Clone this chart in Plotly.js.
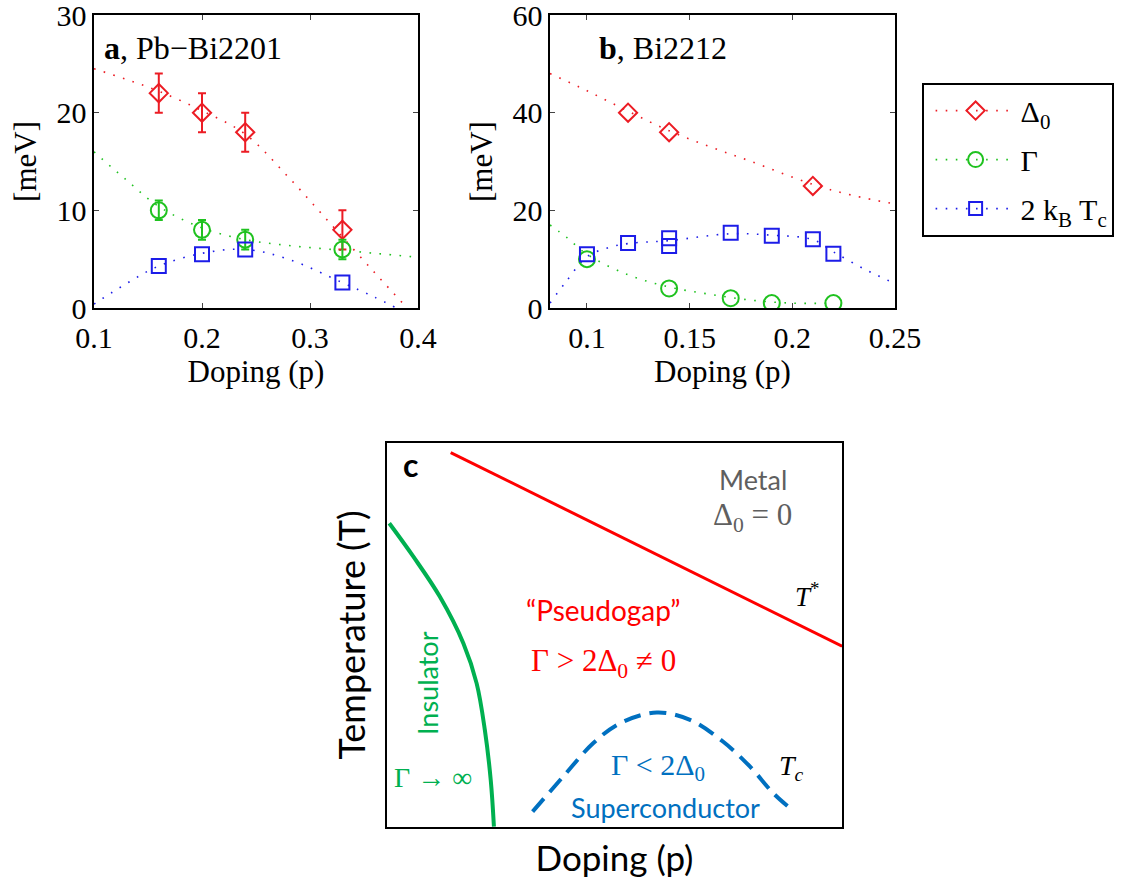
<!DOCTYPE html>
<html>
<head>
<meta charset="utf-8">
<script src="https://cdn.plot.ly/plotly-3.0.1.min.js"></script>
<style>html,body{margin:0;padding:0;background:#fff;}#chart{width:1127px;height:882px;}</style>
</head>
<body>
<div id="chart"></div>
<script>
// ---------- Panel a: Pb-Bi2201 ----------
const dopA = [0.16, 0.20, 0.24, 0.33];
const gapA = [22, 20, 18, 8];
const gapErrA = [2, 2, 2, 2];
const gammaA = [10, 8, 7, 6];
const gammaErrA = [1, 1, 1, 1];
const tcA = [4.3, 5.5, 6.0, 2.6];
// fitted guide lines
const fitGapXA = [0.10, 0.13, 0.16, 0.20, 0.24, 0.28, 0.32, 0.36, 0.39];
const fitGapYA = [24.5, 23.4, 22.2, 20.2, 17.8, 13.4, 8.5, 3.6, 0.0];
const fitGammaXA = [0.10, 0.13, 0.16, 0.20, 0.24, 0.28, 0.32, 0.36, 0.40];
const fitGammaYA = [16.0, 13.1, 10.4, 8.2, 7.0, 6.4, 6.0, 5.6, 5.2];
const fitTcXA = [0.10, 0.13, 0.16, 0.20, 0.24, 0.28, 0.33, 0.36, 0.38];
const fitTcYA = [0.4, 2.5, 4.3, 5.6, 6.0, 5.0, 2.6, 1.1, 0.0];

// ---------- Panel b: Bi2212 ----------
const dopGapB = [0.12, 0.14, 0.21];
const gapB = [40, 36, 25];
const dopGammaB = [0.10, 0.14, 0.17, 0.19, 0.22];
const gammaB = [10, 4, 2, 1, 1];
const dopTcB = [0.10, 0.12, 0.14, 0.14, 0.17, 0.19, 0.21, 0.22];
const tcB = [11.0, 13.3, 14.3, 12.7, 15.4, 14.8, 14.1, 11.1];
const fitGapXB = [0.082, 0.10, 0.12, 0.14, 0.16, 0.18, 0.21, 0.23, 0.25];
const fitGapYB = [48.0, 44.5, 40.3, 36.3, 33.0, 30.0, 25.3, 23.0, 21.3];
const fitGammaXB = [0.082, 0.09, 0.10, 0.12, 0.14, 0.16, 0.18, 0.20, 0.22];
const fitGammaYB = [17.0, 14.5, 11.0, 6.8, 4.3, 2.8, 1.6, 1.0, 1.0];
const fitTcXB = [0.082, 0.09, 0.10, 0.11, 0.12, 0.14, 0.17, 0.19, 0.21, 0.22, 0.235, 0.25];
const fitTcYB = [1.0, 5.5, 10.5, 12.3, 13.2, 13.8, 15.2, 14.9, 14.0, 11.5, 8.0, 5.0];

// ---------- Panel c: schematic phase diagram ----------
const tStarX = [14.0, 100.0];
const tStarY = [97.5, 47.1];
const insX = [0.5, 5.8, 11.6, 16.8, 19.7, 21.5, 22.8, 23.5];
const insY = [79.1, 70.4, 60.0, 47.8, 37.4, 25.3, 12.2, 0.1];
const scX = [32.0, 38.7, 45.3, 51.2, 59.3, 66.6, 73.9, 79.8, 84.9, 88.9];
const scY = [4.0, 13.1, 21.8, 27.0, 29.8, 27.9, 22.2, 15.7, 8.8, 4.6];

// legend labels
const legendNames = ['Δ<sub>0</sub>', 'Γ', '2 k<sub>B</sub> T<sub>c</sub>'];

const RED = '#ec1c24', GREEN = '#1fc21f', BLUE = '#1c1ce8';
const SERIF = 'Liberation Serif';
const SANS = 'Lato';
const dotDash = '1.6px,8.5px';

function fit(x, y, color, xa, ya) {
  return {x: x, y: y, xaxis: xa, yaxis: ya, mode: 'lines', showlegend: false, hoverinfo: 'skip',
    line: {color: color, width: 1.6, dash: dotDash, shape: 'spline'}};
}
function pts(x, y, color, sym, size, xa, ya, err) {
  const t = {x: x, y: y, xaxis: xa, yaxis: ya, mode: 'markers', showlegend: false,
    marker: {symbol: sym, size: size, color: color, line: {color: color, width: 2}}};
  if (err) t.error_y = {type: 'data', array: err, visible: true, color: color, thickness: 2, width: 4};
  return t;
}

const traces = [
  fit(fitGapXA, fitGapYA, RED, 'x', 'y'),
  fit(fitGammaXA, fitGammaYA, GREEN, 'x', 'y'),
  fit(fitTcXA, fitTcYA, BLUE, 'x', 'y'),
  pts(dopA, gapA, RED, 'diamond-open', 14, 'x', 'y', gapErrA),
  pts(dopA, gammaA, GREEN, 'circle-open', 16, 'x', 'y', gammaErrA),
  pts(dopA, tcA, BLUE, 'square-open', 14, 'x', 'y'),
  fit(fitGapXB, fitGapYB, RED, 'x2', 'y2'),
  fit(fitGammaXB, fitGammaYB, GREEN, 'x2', 'y2'),
  fit(fitTcXB, fitTcYB, BLUE, 'x2', 'y2'),
  pts(dopGapB, gapB, RED, 'diamond-open', 14, 'x2', 'y2'),
  pts(dopGammaB, gammaB, GREEN, 'circle-open', 16, 'x2', 'y2'),
  pts(dopTcB, tcB, BLUE, 'square-open', 14, 'x2', 'y2'),
  // legend entries
  {x: [null], y: [null], xaxis: 'x', yaxis: 'y', mode: 'lines+markers', name: legendNames[0], legendgroup: 'g1',
    line: {color: RED, width: 1.6, dash: dotDash}, marker: {symbol: 'diamond-open', size: 14, color: RED, line: {color: RED, width: 2}}},
  {x: [null], y: [null], xaxis: 'x', yaxis: 'y', mode: 'lines+markers', name: legendNames[1], legendgroup: 'g2',
    line: {color: GREEN, width: 1.6, dash: dotDash}, marker: {symbol: 'circle-open', size: 15, color: GREEN, line: {color: GREEN, width: 2}}},
  {x: [null], y: [null], xaxis: 'x', yaxis: 'y', mode: 'lines+markers', name: legendNames[2], legendgroup: 'g3',
    line: {color: BLUE, width: 1.6, dash: dotDash}, marker: {symbol: 'square-open', size: 13, color: BLUE, line: {color: BLUE, width: 2}}},
  // panel c
  {x: tStarX, y: tStarY, xaxis: 'x3', yaxis: 'y3', mode: 'lines', showlegend: false, line: {color: '#ff0000', width: 3}},
  {x: insX, y: insY, xaxis: 'x3', yaxis: 'y3', mode: 'lines', showlegend: false, line: {color: '#00b050', width: 4, shape: 'spline'}},
  {x: scX, y: scY, xaxis: 'x3', yaxis: 'y3', mode: 'lines', showlegend: false, line: {color: '#0070c0', width: 4, shape: 'spline', dash: '17px,9px'}}
];

const W = 1127, H = 882;
const px = v => v / W, py = v => 1 - v / H;

function dataAxis(domain, range, dtick, title, standoff) {
  return {domain: domain, range: range, dtick: dtick, tick0: 0, ticks: 'inside', ticklen: 5, tickwidth: 1,
    mirror: 'ticks', showline: true, linecolor: '#000', linewidth: 1.6, showgrid: false, zeroline: false,
    ticklabeloverflow: 'allow',
    tickfont: {family: SERIF, size: 30, color: '#000'},
    title: {text: title, font: {family: SERIF, size: 31, color: '#000'}, standoff: standoff}};
}

const layout = {
  width: W, height: H, margin: {l: 0, r: 0, t: 0, b: 0},
  paper_bgcolor: '#fff', plot_bgcolor: '#fff',
  font: {family: SERIF, size: 28, color: '#000'},
  xaxis: Object.assign(dataAxis([px(94), px(418)], [0.1, 0.4], 0.1, 'Doping (p)', 0), {anchor: 'y', ticklabelstandoff: 2}),
  yaxis: Object.assign(dataAxis([py(308), py(15)], [0, 30], 10, '[meV]', 10), {anchor: 'x'}),
  xaxis2: Object.assign(dataAxis([px(550), px(895)], [0.082, 0.25], 0.05, 'Doping (p)', 0), {anchor: 'y2', tick0: 0.1, ticklabelstandoff: 2}),
  yaxis2: Object.assign(dataAxis([py(308), py(15)], [0, 60], 20, '[meV]', 10), {anchor: 'x2'}),
  xaxis3: {domain: [px(387), px(842)], range: [0, 100], anchor: 'y3', showline: true, mirror: true, linecolor: '#000', linewidth: 2,
    showgrid: false, zeroline: false, ticks: '', showticklabels: false,
    title: {text: 'Doping (p)', font: {family: SANS, size: 35, color: '#000'}, standoff: 18}},
  yaxis3: {domain: [py(827), py(443)], range: [0, 100], anchor: 'x3', showline: true, mirror: true, linecolor: '#000', linewidth: 2,
    showgrid: false, zeroline: false, ticks: '', showticklabels: false,
    title: {text: 'Temperature (T)', font: {family: SANS, size: 36, color: '#000'}, standoff: 8}},
  showlegend: true,
  legend: {x: px(922), y: py(83), xanchor: 'left', yanchor: 'top', bgcolor: '#fff', bordercolor: '#000', borderwidth: 1.6,
    font: {family: SERIF, size: 30, color: '#000'}, itemwidth: 80, indentation: 7,
    traceorder: 'grouped', tracegroupgap: 7, itemclick: false},
  annotations: [
    {xref: 'paper', yref: 'paper', x: px(102), y: py(48), xanchor: 'left', yanchor: 'middle', showarrow: false,
      text: '<b>a</b>, Pb−Bi2201', font: {family: SERIF, size: 32, color: '#000'}},
    {xref: 'paper', yref: 'paper', x: px(597), y: py(48), xanchor: 'left', yanchor: 'middle', showarrow: false,
      text: '<b>b</b>, Bi2212', font: {family: SERIF, size: 32, color: '#000'}},
    {xref: 'x3', yref: 'y3', x: 5.1, y: 94.3, showarrow: false, text: '<b>c</b>', font: {family: SANS, size: 32, color: '#000'}},
    {xref: 'x3', yref: 'y3', x: 80.4, y: 90.4, showarrow: false, text: 'Metal', font: {family: SANS, size: 27, color: '#5f5f5f'}},
    {xref: 'x3', yref: 'y3', x: 80.4, y: 80.7, showarrow: false, text: 'Δ<sub>0</sub> = 0', font: {family: SERIF, size: 31, color: '#5f5f5f'}},
    {xref: 'x3', yref: 'y3', x: 92.3, y: 60.4, showarrow: false, text: '<i>T</i><sup>*</sup>', font: {family: SERIF, size: 27, color: '#000'}},
    {xref: 'x3', yref: 'y3', x: 47.5, y: 56.5, showarrow: false, text: '“Pseudogap”', font: {family: SANS, size: 28, color: '#ff0000'}},
    {xref: 'x3', yref: 'y3', x: 47.5, y: 42.7, showarrow: false, text: 'Γ > 2Δ<sub>0</sub> ≠ 0', font: {family: SERIF, size: 31, color: '#ff0000'}},
    {xref: 'x3', yref: 'y3', x: 8.8, y: 37.5, showarrow: false, textangle: -90, text: 'Insulator', font: {family: SANS, size: 27, color: '#00b050'}},
    {xref: 'x3', yref: 'y3', x: 10.1, y: 12.8, showarrow: false, text: 'Γ → ∞', font: {family: SERIF, size: 28, color: '#00b050'}},
    {xref: 'x3', yref: 'y3', x: 59.6, y: 15.6, showarrow: false, text: 'Γ < 2Δ<sub>0</sub>', font: {family: SERIF, size: 30, color: '#0070c0'}},
    {xref: 'x3', yref: 'y3', x: 61.1, y: 5.2, showarrow: false, text: 'Superconductor', font: {family: SANS, size: 27, color: '#0070c0'}},
    {xref: 'x3', yref: 'y3', x: 89.0, y: 15.6, showarrow: false, text: '<i>T<sub>c</sub></i>', font: {family: SERIF, size: 28, color: '#000'}}
  ]
};

Plotly.newPlot('chart', traces, layout, {staticPlot: true, displayModeBar: false});
</script>
</body>
</html>
